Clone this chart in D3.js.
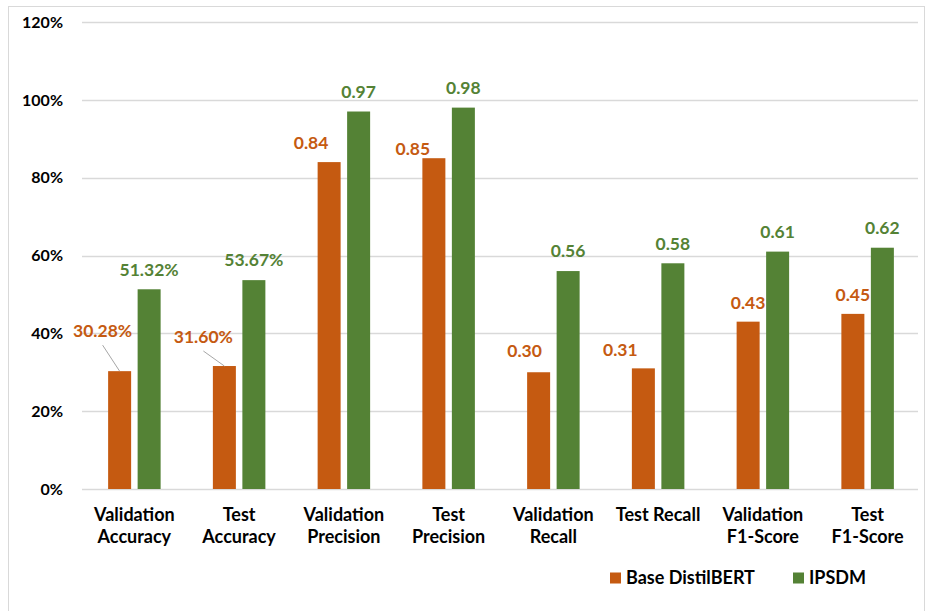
<!DOCTYPE html>
<html>
<head>
<meta charset="utf-8">
<script src="https://cdn.jsdelivr.net/npm/d3@7"></script>
<style>
  html, body { margin: 0; padding: 0; background: #fff; }
  svg { display: block; }
  text { font-family: Lato, "Open Sans", "DejaVu Sans", sans-serif; font-weight: bold; }
</style>
</head>
<body>
<svg id="chart" width="927" height="611"></svg>
<script>
// ---- data ----
const categories = [
  ["Validation", "Accuracy"],
  ["Test", "Accuracy"],
  ["Validation", "Precision"],
  ["Test", "Precision"],
  ["Validation", "Recall"],
  ["Test Recall"],
  ["Validation", "F1-Score"],
  ["Test", "F1-Score"]
];
const seriesNames = ["Base DistilBERT", "IPSDM"];
const baseValues = [30.28, 31.60, 84, 85, 30, 31, 43, 45];
const ipsdmValues = [51.32, 53.67, 97, 98, 56, 58, 61, 62];
const baseLabels = ["30.28%", "31.60%", "0.84", "0.85", "0.30", "0.31", "0.43", "0.45"];
const ipsdmLabels = ["51.32%", "53.67%", "0.97", "0.98", "0.56", "0.58", "0.61", "0.62"];
const yTicks = [0, 20, 40, 60, 80, 100, 120];
// label nudges (dx, dy of label centre relative to bar top centre)
const baseLabelNudge = [[-17,-40],[-21,-29],[-18,-19],[-21,-10],[-14,-22],[-23,-19],[0,-19],[0,-19]];
const leaderLines = [true, true, false, false, false, false, false, false];
const colors = ["#C55A11", "#548235"];

// ---- layout ----
const svg = d3.select("#chart");
svg.append("rect").attr("x", 8.5).attr("y", 6.5).attr("width", 916).attr("height", 612)
  .attr("fill", "#fff").attr("stroke", "#d9d9d9").attr("stroke-width", 1);

const x0 = 82, x1 = 920, yBottom = 489, yTop = 22;
const catIdx = categories.map((d, i) => i);
const x = d3.scaleBand().domain(catIdx).range([x0, x1]).padding(0);
const step = 29.5, bw = 23;
const pi = (step - bw) / step;
const po = (x.bandwidth() / step - 2 + pi) / 2;
const xs = d3.scaleBand().domain([0, 1]).range([0, x.bandwidth()]).paddingInner(pi).paddingOuter(po);
const y = d3.scaleLinear().domain([0, 120]).range([yBottom, yTop]);

// gridlines
svg.append("g").selectAll("line").data(yTicks).join("line")
  .attr("x1", x0).attr("x2", x1 - 2)
  .attr("y1", d => Math.round(y(d)) + 0.5).attr("y2", d => Math.round(y(d)) + 0.5)
  .attr("stroke", "#d9d9d9").attr("stroke-width", 1.3);

// y tick labels
svg.append("g").selectAll("text").data(yTicks).join("text")
  .attr("x", 63).attr("y", d => y(d)).attr("dy", "0.36em")
  .attr("text-anchor", "end").attr("font-size", 16).attr("fill", "#000")
  .text(d => d + "%");

// bars
const series = [baseValues, ipsdmValues];
series.forEach((vals, s) => {
  svg.append("g").selectAll("rect").data(vals).join("rect")
    .attr("x", (d, i) => x(i) + xs(s))
    .attr("width", xs.bandwidth())
    .attr("y", d => y(d))
    .attr("height", d => yBottom - y(d))
    .attr("fill", colors[s]);
});

// leader lines
const cx = (i, s) => x(i) + xs(s) + xs.bandwidth() / 2;
svg.append("g").selectAll("line").data(catIdx.filter(i => leaderLines[i])).join("line")
  .attr("x1", i => cx(i, 0) + baseLabelNudge[i][0])
  .attr("y1", i => y(baseValues[i]) + baseLabelNudge[i][1] + 14)
  .attr("x2", i => cx(i, 0))
  .attr("y2", i => y(baseValues[i]))
  .attr("stroke", "#a6a6a6").attr("stroke-width", 1);

// data labels
svg.append("g").selectAll("text").data(catIdx).join("text")
  .attr("x", i => cx(i, 0) + baseLabelNudge[i][0])
  .attr("y", i => y(baseValues[i]) + baseLabelNudge[i][1])
  .attr("dy", "0.36em").attr("text-anchor", "middle")
  .attr("font-size", 17.5).attr("fill", colors[0])
  .text(i => baseLabels[i]);
svg.append("g").selectAll("text").data(catIdx).join("text")
  .attr("x", i => cx(i, 1))
  .attr("y", i => y(ipsdmValues[i]) - 20)
  .attr("dy", "0.36em").attr("text-anchor", "middle")
  .attr("font-size", 17.5).attr("fill", colors[1])
  .text(i => ipsdmLabels[i]);

// x labels
const xl = svg.append("g");
categories.forEach((lines, i) => {
  lines.forEach((ln, j) => {
    xl.append("text")
      .attr("x", x(i) + x.bandwidth() / 2)
      .attr("y", 515 + j * 22).attr("dy", "0.36em")
      .attr("text-anchor", "middle").attr("font-size", 18).attr("fill", "#000")
      .text(ln);
  });
});

// legend
const legendX = [610, 793];
seriesNames.forEach((name, s) => {
  svg.append("rect").attr("x", legendX[s]).attr("y", 572.5).attr("width", 11).attr("height", 11)
    .attr("fill", colors[s]);
  svg.append("text").attr("x", legendX[s] + 16).attr("y", 578).attr("dy", "0.36em")
    .attr("font-size", 18).attr("fill", "#000").text(name);
});
</script>
</body>
</html>
